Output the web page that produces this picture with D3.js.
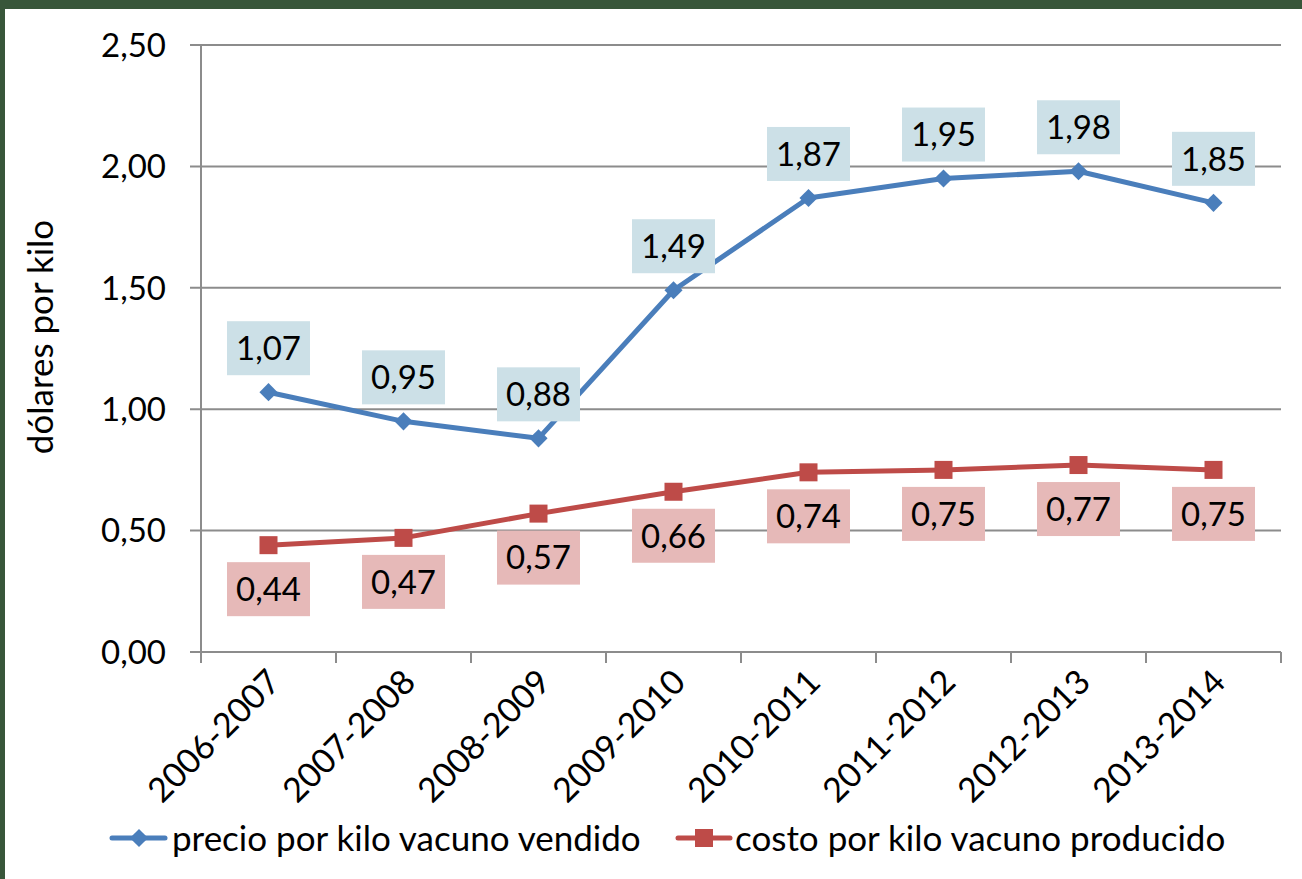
<!DOCTYPE html>
<html><head><meta charset="utf-8">
<script src="https://cdn.jsdelivr.net/npm/d3@7"></script>
<style>
html,body{margin:0;padding:0;background:#fff;}
svg{display:block;font-family:Lato, "Open Sans", sans-serif;}
</style></head>
<body>
<script>
const categories = ["2006-2007","2007-2008","2008-2009","2009-2010","2010-2011","2011-2012","2012-2013","2013-2014"];
const precio = [1.07,0.95,0.88,1.49,1.87,1.95,1.98,1.85];
const costo = [0.44,0.47,0.57,0.66,0.74,0.75,0.77,0.75];
const yTicks = [0,0.5,1,1.5,2,2.5];
const seriesNames = ["precio por kilo vacuno vendido","costo por kilo vacuno producido"];

const W=1302,H=879;
const svg=d3.select("body").append("svg").attr("width",W).attr("height",H);
svg.append("rect").attr("width",W).attr("height",H).attr("fill","#fff");
svg.append("rect").attr("x",0).attr("y",0).attr("width",W).attr("height",9).attr("fill","#38563a");
svg.append("rect").attr("x",0).attr("y",0).attr("width",5).attr("height",H).attr("fill","#38563a");

const pL=201,pR=1281,pT=45,pB=652;
const x=d3.scaleBand().domain(categories).range([pL,pR]);
const y=d3.scaleLinear().domain([0,2.5]).range([pB,pT]);
const cx=d=>x(d)+x.bandwidth()/2;
const fmt=v=>d3.format(".2f")(v).replace(".",",");
const grid="#8c8c8c";

svg.append("g").selectAll("line").data(yTicks).join("line")
 .attr("x1",190).attr("x2",pR).attr("y1",d=>y(d)).attr("y2",d=>y(d))
 .attr("stroke",grid).attr("stroke-width",2);
svg.append("line").attr("x1",pL).attr("x2",pL).attr("y1",pT).attr("y2",pB+11).attr("stroke",grid).attr("stroke-width",2);
svg.append("g").selectAll("line").data(d3.range(categories.length+1)).join("line")
 .attr("x1",i=>pL+i*x.bandwidth()).attr("x2",i=>pL+i*x.bandwidth())
 .attr("y1",pB).attr("y2",pB+11).attr("stroke",grid).attr("stroke-width",2);

svg.append("g").selectAll("text").data(yTicks).join("text")
 .attr("x",166).attr("y",d=>y(d)).attr("dy","0.36em").attr("text-anchor","end")
 .attr("font-size",33).attr("fill","#000").text(fmt);

svg.append("g").selectAll("text").data(categories).join("text")
 .attr("text-anchor","end").attr("font-size",34).attr("fill","#000")
 .attr("transform",d=>`translate(${cx(d)+14},${pB+32}) rotate(-45)`).text(d=>d);

svg.append("text").attr("transform","translate(53,337) rotate(-90)").attr("text-anchor","middle")
 .attr("font-size",35).attr("fill","#000").text("dólares por kilo");

const blue="#4a7ebb",red="#be4b48";
const line=d3.line().x((d,i)=>cx(categories[i])).y(d=>y(d));
svg.append("path").attr("d",line(precio)).attr("fill","none").attr("stroke",blue).attr("stroke-width",5).attr("stroke-linejoin","round");
svg.append("path").attr("d",line(costo)).attr("fill","none").attr("stroke",red).attr("stroke-width",5).attr("stroke-linejoin","round");

const diamond=d3.symbol().type(d3.symbolSquare).size(165);
svg.append("g").selectAll("path").data(precio).join("path")
 .attr("d",diamond).attr("transform",(d,i)=>`translate(${cx(categories[i])},${y(d)}) rotate(45)`).attr("fill",blue);
svg.append("g").selectAll("rect").data(costo).join("rect")
 .attr("x",(d,i)=>cx(categories[i])-9).attr("y",d=>y(d)-9).attr("width",18).attr("height",18).attr("fill",red);

function labels(data,off,bg){
 const g=svg.append("g").selectAll("g").data(data).join("g")
  .attr("transform",(d,i)=>`translate(${cx(categories[i])},${y(d)+off})`);
 g.append("rect").attr("x",-41.5).attr("y",-27).attr("width",83).attr("height",54).attr("fill",bg);
 g.append("text").attr("text-anchor","middle").attr("dy","0.36em").attr("font-size",33).attr("fill","#000").text(fmt);
}
labels(precio,-44,"#cce0e7");
labels(costo,44,"#e6b9b8");

const lg=svg.append("g");
lg.append("line").attr("x1",112).attr("x2",165).attr("y1",838).attr("y2",838).attr("stroke",blue).attr("stroke-width",5).attr("stroke-linecap","round");
lg.append("path").attr("d",diamond).attr("transform","translate(139,838) rotate(45)").attr("fill",blue);
lg.append("text").attr("x",172).attr("y",838).attr("dy","0.36em").attr("font-size",35).text(seriesNames[0]);
lg.append("line").attr("x1",678).attr("x2",730).attr("y1",838).attr("y2",838).attr("stroke",red).attr("stroke-width",5).attr("stroke-linecap","round");
lg.append("rect").attr("x",695).attr("y",829).attr("width",18).attr("height",18).attr("fill",red);
lg.append("text").attr("x",735).attr("y",838).attr("dy","0.36em").attr("font-size",35).text(seriesNames[1]);
</script>
</body></html>
